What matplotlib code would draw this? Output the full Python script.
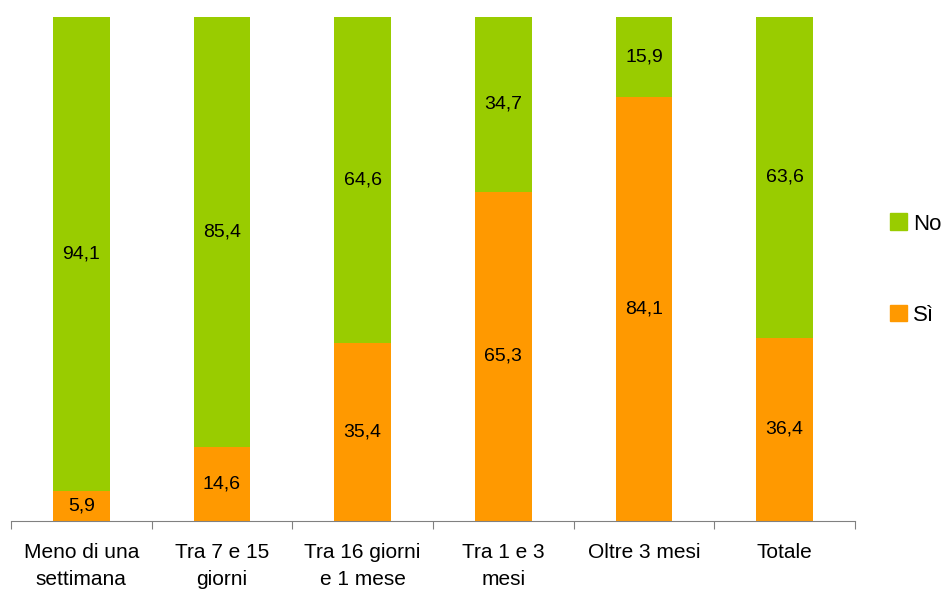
import numpy as np
import matplotlib.pyplot as plt
from matplotlib.patches import Patch

# --------- DATI ---------
categorie = ['Meno di una\nsettimana', 'Tra 7 e 15\ngiorni', 'Tra 16 giorni\ne 1 mese',
             'Tra 1 e 3\nmesi', 'Oltre 3 mesi', 'Totale']
valori_si = [5.9, 14.6, 35.4, 65.3, 84.1, 36.4]
valori_no = [94.1, 85.4, 64.6, 34.7, 15.9, 63.6]

verde = '#99CC00'
arancio = '#FF9900'

plt.rcParams['font.family'] = ['Liberation Sans', 'DejaVu Sans']

fig = plt.figure(figsize=(9.49, 5.9), dpi=100)
ax = fig.add_axes([11 / 949, 1 - 521 / 590, (855 - 11) / 949, (521 - 17) / 590])

x = np.arange(len(categorie))
larghezza = 0.405

ax.bar(x, valori_si, larghezza, color=arancio, label='Sì')
ax.bar(x, valori_no, larghezza, bottom=valori_si, color=verde, label='No')

# etichette dentro i segmenti
for i in range(len(categorie)):
    ax.text(x[i], valori_si[i] / 2, f"{valori_si[i]:.1f}".replace('.', ','),
            ha='center', va='center', fontsize=14)
    ax.text(x[i], valori_si[i] + valori_no[i] / 2, f"{valori_no[i]:.1f}".replace('.', ','),
            ha='center', va='center', fontsize=14)

ax.set_xlim(-0.5, len(categorie) - 0.5)
ax.set_ylim(0, 100)

# tick ai confini delle categorie, etichette al centro
ax.set_xticks(np.arange(len(categorie) + 1) - 0.5)
ax.set_xticklabels([])
ax.tick_params(axis='x', which='major', length=6, color='#808080', direction='out')
ax.set_xticks(x, minor=True)
ax.set_xticklabels(categorie, minor=True, fontsize=15, linespacing=1.55)
ax.tick_params(axis='x', which='minor', length=0, pad=16)

ax.set_yticks([])
for lato in ['left', 'top', 'right']:
    ax.spines[lato].set_visible(False)
ax.spines['bottom'].set_color('#808080')

maniglie = [Patch(color=verde, label='No'), Patch(color=arancio, label='Sì')]
fig.legend(handles=maniglie, loc='center left', bbox_to_anchor=(890 / 949, 1 - 269.5 / 590),
           frameon=False, fontsize=16, handlelength=0.77, handleheight=0.77,
           handletextpad=0.27, labelspacing=3.15, borderpad=0, borderaxespad=0)

fig.savefig('out.png', dpi=100)
